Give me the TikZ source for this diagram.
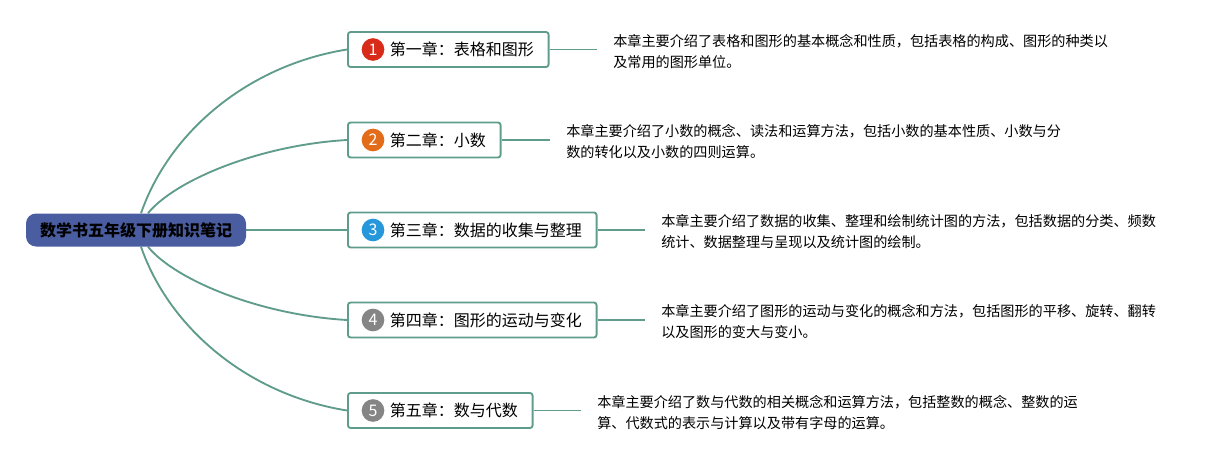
\documentclass[tikz,border=0pt]{standalone}
\usepackage{fontspec}
\setmainfont{Noto Sans CJK SC}
\usetikzlibrary{calc,backgrounds}
\definecolor{branch}{HTML}{5F9C8B}
\definecolor{rootblue}{HTML}{4A5DA0}
\definecolor{badgered}{HTML}{D92B1A}
\definecolor{badgeorange}{HTML}{E36C1A}
\definecolor{badgeblue}{HTML}{2797DC}
\definecolor{badgegray}{HTML}{858585}

\begin{document}
\begin{tikzpicture}[
  x=0.75pt, y=-0.75pt,
  root/.style={rectangle, fill=rootblue, rounded corners=7.5pt, minimum width=165pt, minimum height=24.75pt, inner sep=0pt, font=\fontsize{12pt}{14pt}\selectfont\bfseries},
  chap/.style={rectangle, draw=branch, line width=1.4pt, fill=white, rounded corners=2pt, minimum height=26.25pt, inner xsep=11pt, inner ysep=0pt, anchor=west, font=\fontsize{12pt}{14pt}\selectfont},
  badge/.style={circle, inner sep=0pt, minimum size=17pt, text=white, font=\fontsize{12pt}{14pt}\selectfont},
  desc/.style={anchor=west, align=left, inner xsep=12pt, font=\fontsize{10.6pt}{15.75pt}\selectfont},
  link/.style={draw=branch, line width=1.4pt},
]
  \useasboundingbox (0,0) rectangle (1221,460);

  % Root
  \node[root] (root) at (136,230) {数学书五年级下册知识笔记};

  % Chapters
  \node[chap] (c1) at (347,49.5) {\hspace{20.5pt}第一章：表格和图形};
  \node[badge, fill=badgered] (b1) at ([xshift=19.5pt]c1.west) {1};
  \node[chap] (c2) at (347,140) {\hspace{20.5pt}第二章：小数};
  \node[badge, fill=badgeorange] (b2) at ([xshift=19.5pt]c2.west) {2};
  \node[chap] (c3) at (347,230) {\hspace{20.5pt}第三章：数据的收集与整理};
  \node[badge, fill=badgeblue] (b3) at ([xshift=19.5pt]c3.west) {3};
  \node[chap] (c4) at (347,320) {\hspace{20.5pt}第四章：图形的运动与变化};
  \node[badge, fill=badgegray] (b4) at ([xshift=19.5pt]c4.west) {4};
  \node[chap] (c5) at (347,410.5) {\hspace{20.5pt}第五章：数与代数};
  \node[badge, fill=badgegray] (b5) at ([xshift=19.5pt]c5.west) {5};

  % Descriptions
  \node[desc] (d1) at (597,52) {本章主要介绍了表格和图形的基本概念和性质，包括表格的构成、图形的种类以\\及常用的图形单位。};
  \node[desc] (d2) at (550,142) {本章主要介绍了小数的概念、读法和运算方法，包括小数的基本性质、小数与分\\数的转化以及小数的四则运算。};
  \node[desc] (d3) at (645,232) {本章主要介绍了数据的收集、整理和绘制统计图的方法，包括数据的分类、频数\\统计、数据整理与呈现以及统计图的绘制。};
  \node[desc] (d4) at (645,322) {本章主要介绍了图形的运动与变化的概念和方法，包括图形的平移、旋转、翻转\\以及图形的变大与变小。};
  \node[desc] (d5) at (581,412.5) {本章主要介绍了数与代数的相关概念和运算方法，包括整数的概念、整数的运\\算、代数式的表示与计算以及带有字母的运算。};

  % Links
  \foreach \i in {1,...,5}
    \draw[link] (c\i.east) -- (c\i.east -| d\i.west);
  \begin{scope}[on background layer]
    \draw[link] ([xshift=3.75pt]root.north) .. controls (170,130) and (250,65) .. (c1.west);
    \draw[link] ([xshift=9pt]root.north) .. controls (175,180) and (260,145) .. (c2.west);
    \draw[link] (root.east) -- (c3.west);
    \draw[link] ([xshift=9pt]root.south) .. controls (175,280) and (260,315) .. (c4.west);
    \draw[link] ([xshift=3.75pt]root.south) .. controls (170,330) and (250,395) .. (c5.west);
  \end{scope}
\end{tikzpicture}
\end{document}
